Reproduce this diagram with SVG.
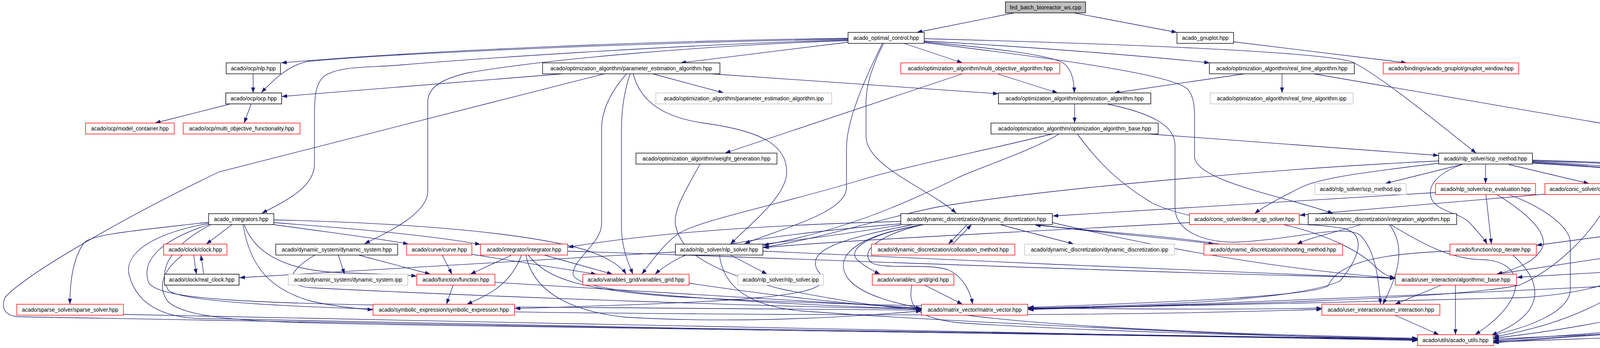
<svg xmlns="http://www.w3.org/2000/svg" width="5190" height="891" viewBox="0 0 5190 891">
<style>
.nd rect{fill:#fff;stroke:#000;stroke-width:1.4}
.nd.r rect{stroke:#ff0000}
.nd.g rect{stroke:#bfbfbf}
.nd.d rect{stroke:#404040;stroke-width:2}
.nd.s rect{fill:#bfbfbf}
.nd text{font-family:"Liberation Sans",Arial,sans-serif;font-size:14px;text-anchor:middle;fill:#000}
#edges path{fill:none;stroke:#191970;stroke-width:1.3;marker-end:url(#a)}
</style>
<defs>
<marker id="a" markerUnits="userSpaceOnUse" markerWidth="14" markerHeight="10" refX="14" refY="5" orient="auto"><path d="M0,0L14,5L0,10z" fill="#191970"/></marker>
</defs>
<rect width="5190" height="891" fill="#fff"/>
<g id="edges">
<path d="M2596,33 L2347,83"/>
<path d="M2749,33 L3013,83"/>
<path d="M3158,107 L3601,161"/>
<path d="M2171,98 C1700,104 1100,128 720,161"/>
<path d="M2171,100 C1600,110 1000,138 790,157 C740,165 700,205 669,237"/>
<path d="M2171,102 C1700,116 1200,152 1030,166 C940,174 870,168 830,195 C805,215 805,260 805,300 L805,420 C805,480 730,515 670,546"/>
<path d="M2171,104 C1800,116 1400,152 1200,186 C1115,205 1095,232 1095,262 L1095,490 C1095,545 1000,592 933,624"/>
<path d="M2171,108 L1742,161"/>
<path d="M2259,111 C2225,180 2167,300 2167,380 L2167,480 C2167,545 2000,585 1906,624"/>
<path d="M2262,111 C2232,170 2217,220 2217,262 L2217,350 C2217,425 2380,485 2448,546"/>
<path d="M2314,111 L2464,161"/>
<path d="M2366,99 C2900,113 3380,133 3460,158 C3530,190 3700,330 3779,392"/>
<path d="M2366,105 C2600,118 2900,140 3097,161"/>
<path d="M2366,107 C2550,124 2680,140 2720,160 C2745,176 2750,210 2750,238"/>
<path d="M2366,109 C2700,150 3000,190 3040,228 C3058,248 3058,280 3058,300 L3058,400 C3058,465 3300,505 3413,547"/>
<path d="M648,189 L648,238"/>
<path d="M1441,189 L721,247"/>
<path d="M1547,189 L561,440 C320,555 70,700 14,760 C0,790 15,808 45,811 C900,835 2600,852 3629,869"/>
<path d="M1604,189 C1558,240 1540,290 1540,330 L1540,573 C1540,622 1470,660 1467,700 C1465,742 1700,757 1900,770 C2100,783 2300,789 2359,792"/>
<path d="M1613,189 C1596,240 1591,290 1591,330 L1591,580 C1591,640 1612,680 1620,702"/>
<path d="M1621,189 C1640,262 1700,300 1800,315 C1950,335 2014,372 2014,440 C2014,502 1922,572 1870,625"/>
<path d="M1671,189 L1853,238"/>
<path d="M1820,189 L2556,240"/>
<path d="M2553,189 L2708,238"/>
<path d="M2464,189 L1856,392"/>
<path d="M3186,189 L2852,238"/>
<path d="M3282,189 L3282,238"/>
<path d="M3363,189 L4544,392"/>
<path d="M590,266 L397,315"/>
<path d="M643,266 L625,315"/>
<path d="M2751,266 L2751,315"/>
<path d="M2833,266 C2950,290 3008,322 3008,372 L3008,530 C3008,592 3080,620 3160,620 C3300,616 3440,572 3482,602 C3522,642 3530,720 3534,779"/>
<path d="M2941,343 L3683,398"/>
<path d="M2711,343 C2650,382 2500,432 2450,456 C2300,530 2150,592 1954,628"/>
<path d="M2694,343 C2500,390 2300,430 2200,462 C2000,522 1800,562 1740,596 C1700,622 1660,680 1643,702"/>
<path d="M2758,343 C2800,400 2850,460 2950,520 C3100,590 3300,560 3440,585 C3500,600 3480,660 3430,720 C3300,775 2900,782 2631,789"/>
<path d="M3683,412 C3300,430 2700,480 2400,530 C2250,560 2100,612 1954,633"/>
<path d="M3683,418 C3500,440 3380,455 3330,480 C3270,510 3230,532 3212,547"/>
<path d="M3743,421 L3546,470"/>
<path d="M3743,421 C3690,440 3650,470 3665,510 C3680,542 3740,546 3762,570 C3786,596 3800,612 3807,625"/>
<path d="M3803,421 L3803,470"/>
<path d="M3862,421 L4068,470"/>
<path d="M3923,416 C4100,425 4300,445 4482,473"/>
<path d="M3923,410 C4200,418 4600,430 4750,465 C4810,490 4816,522 4816,560 L4816,715 C4816,726 4868,730 4862,742 C4840,772 4700,800 4600,815 C4400,845 4000,860 3823,868"/>
<path d="M3923,412 C4300,424 4700,440 4840,476 C4920,502 4935,532 4935,562 L4935,660 C4940,702 4970,742 4987,779"/>
<path d="M3923,414 C4150,425 4300,440 4360,466 C4400,490 4420,520 4431,547"/>
<path d="M3923,418 C4150,430 4300,446 4325,480 C4340,512 4260,516 4220,527 C4190,542 4192,582 4226,625"/>
<path d="M3675,493 L2695,553"/>
<path d="M3804,498 L3818,625"/>
<path d="M3832,498 C3900,540 3960,590 3950,630 C3935,672 3870,692 3832,702"/>
<path d="M3862,498 C3950,530 4020,580 4020,622 L4020,740 C4020,802 3900,842 3818,858"/>
<path d="M3955,497 L3327,551"/>
<path d="M4134,498 C4135,550 4170,592 4209,625"/>
<path d="M4126,498 C4080,600 3980,690 3890,730 C3700,770 3000,782 2632,790"/>
<path d="M4314,493 C4550,520 4700,542 4715,590 L4717,717 C4717,770 4600,802 4400,826 C4150,850 3950,862 3823,872"/>
<path d="M4750,416 C4900,440 5100,480 5150,520 C5180,550 5183,582 5183,622 L5183,763 C5183,802 5150,815 5000,825 C4700,845 4100,865 3823,876"/>
<path d="M3557,575 C3600,632 3580,702 3540,779"/>
<path d="M3560,575 C3650,630 3720,665 3800,665 C3900,670 3922,762 3776,857"/>
<path d="M3484,575 C3420,595 3360,606 3320,625"/>
<path d="M2476,575 L2428,625"/>
<path d="M2439,625 L2487,575"/>
<path d="M2652,575 C2800,595 3000,610 3108,625"/>
<path d="M3124,625 C3000,605 2800,592 2650,576"/>
<path d="M2560,575 L2749,625"/>
<path d="M2306,567 C2000,575 1700,592 1454,633"/>
<path d="M2306,573 C2000,598 1800,630 1740,660 C1710,676 1690,690 1677,702"/>
<path d="M2306,576 C2100,610 1850,640 1731,645 L613,711"/>
<path d="M2364,575 C2200,602 2130,652 2170,712 C2230,792 2500,842 3629,866"/>
<path d="M2364,575 C2220,600 2160,640 2200,670 C2220,686 2240,696 2253,702"/>
<path d="M2337,575 C2150,612 2050,642 2100,702 C2150,762 1900,772 1318,790"/>
<path d="M2694,570 C3000,642 3300,692 3572,712"/>
<path d="M2362,575 C2250,602 2200,642 2230,672 C2260,692 2380,672 2430,692 C2470,712 2485,752 2490,779"/>
<path d="M2367,730 L2464,779"/>
<path d="M2334,730 C2325,782 2340,812 2450,826 C2800,850 3300,860 3629,868"/>
<path d="M594,575 L528,625"/>
<path d="M534,569 C350,590 232,600 215,622 C186,662 179,722 179,779"/>
<path d="M701,563 C1000,570 1300,590 1470,632 C1550,652 1590,682 1603,702"/>
<path d="M701,570 C900,585 1100,602 1230,626"/>
<path d="M701,575 C850,596 980,612 1046,625"/>
<path d="M625,575 C650,642 720,692 870,698 C950,701 1020,702 1067,707"/>
<path d="M622,575 C640,682 690,742 800,772 C870,787 920,791 955,793"/>
<path d="M534,572 C380,600 320,652 330,702 C350,782 420,810 500,815 C1500,840 2800,855 3629,868"/>
<path d="M534,575 C420,612 360,662 380,722 C400,772 700,777 1200,785 C1800,793 2200,795 2359,794"/>
<path d="M540,575 C450,622 400,682 430,742 C470,792 1200,800 2000,805 C2800,810 3200,798 3384,792"/>
<path d="M496,653 C498,670 500,686 503,702"/>
<path d="M521,702 C520,686 517,670 514,653"/>
<path d="M467,653 C420,690 400,732 430,772 C480,822 700,826 1000,831 C2000,850 3000,862 3629,870"/>
<path d="M866,653 L882,702"/>
<path d="M918,653 L1102,702"/>
<path d="M806,653 C740,692 720,732 800,737 C1300,762 2000,786 2359,791"/>
<path d="M1132,653 L1157,702"/>
<path d="M1207,651 L1527,702"/>
<path d="M1310,653 L1204,702"/>
<path d="M1393,653 L1568,702"/>
<path d="M1335,653 C1310,722 1260,752 1195,779"/>
<path d="M1346,653 C1360,722 1420,792 1600,812 C1900,830 2200,810 2359,796"/>
<path d="M1352,653 C1400,712 1480,742 1731,760 C2300,790 3000,795 3384,789"/>
<path d="M1453,643 C2000,660 3000,702 3572,711"/>
<path d="M1160,730 L1143,779"/>
<path d="M1267,723 C1700,746 2100,772 2359,789"/>
<path d="M1764,725 C2000,760 2200,782 2359,790"/>
<path d="M1870,653 L1964,702"/>
<path d="M1842,653 C1850,722 1900,782 2050,796 C2400,822 3200,860 3629,870"/>
<path d="M1953,643 C2400,662 3200,702 3572,713"/>
<path d="M3690,730 L3571,779"/>
<path d="M3726,730 L3726,857"/>
<path d="M3571,807 L3684,857"/>
<path d="M3873,653 C3950,722 3962,802 3818,858"/>
<path d="M3712,643 C3500,650 3420,682 3400,732 C3350,762 2900,777 2632,787"/>
<path d="M4157,653 L3830,702"/>
<path d="M4240,653 C4180,742 4050,822 3823,863"/>
<path d="M4234,653 C4180,722 4050,752 3900,762 C3500,772 2900,787 2632,791"/>
<path d="M4330,575 L3933,628"/>
<path d="M4442,575 C4430,642 4400,667 4300,686 L3883,710"/>
<path d="M4450,575 C4455,652 4400,712 4300,722 C4000,742 3000,782 2632,793"/>
<path d="M4453,575 C4470,642 4440,722 4300,776 C4150,822 3950,852 3823,866"/>
<path d="M4854,810 C4400,838 4000,862 3823,878"/>
<path d="M4652,498 C4720,542 4765,582 4765,622 L4765,723 C4765,762 4650,792 4500,813 C4200,850 3950,868 3823,874"/>
<path d="M316,805 C1500,830 3000,860 3629,872"/>
<path d="M3045,570 C2700,590 2200,612 1954,634"/>
<path d="M3286,575 C3400,602 3480,642 3520,682 C3540,702 3556,708 3572,712"/>
<path d="M1792,420 C1760,480 1720,540 1730,580 C1745,640 1800,690 2000,740 C2200,780 2300,790 2359,793"/>
</g>
<g id="n0" class="nd s"><rect x="2574" y="5" width="205" height="28"/><text x="2676.5" y="24">fed_batch_bioreactor_ws.cpp</text></g>
<g id="n1" class="nd"><rect x="2171" y="83" width="195" height="28"/><text x="2268.5" y="102">acado_optimal_control.hpp</text></g>
<g id="n2" class="nd"><rect x="3013" y="83" width="145" height="28"/><text x="3085.5" y="102">acado_gnuplot.hpp</text></g>
<g id="n3" class="nd"><rect x="579" y="161" width="139" height="28"/><text x="648.5" y="180">acado/ocp/nlp.hpp</text></g>
<g id="n4" class="nd"><rect x="1389" y="161" width="454" height="28"/><text x="1616" y="180">acado/optimization_algorithm/parameter_estimation_algorithm.hpp</text></g>
<g id="n5" class="nd r"><rect x="2306" y="161" width="407" height="28"/><text x="2509.5" y="180">acado/optimization_algorithm/multi_objective_algorithm.hpp</text></g>
<g id="n6" class="nd"><rect x="3096" y="161" width="371" height="28"/><text x="3281.5" y="180">acado/optimization_algorithm/real_time_algorithm.hpp</text></g>
<g id="n7" class="nd r"><rect x="3541" y="161" width="347" height="28"/><text x="3714.5" y="180">acado/bindings/acado_gnuplot/gnuplot_window.hpp</text></g>
<g id="n8" class="nd d"><rect x="578" y="238" width="143" height="28"/><text x="649.5" y="257">acado/ocp/ocp.hpp</text></g>
<g id="n9" class="nd g"><rect x="1679" y="238" width="450" height="28"/><text x="1904" y="257">acado/optimization_algorithm/parameter_estimation_algorithm.ipp</text></g>
<g id="n10" class="nd d"><rect x="2556" y="238" width="390" height="28"/><text x="2751" y="257">acado/optimization_algorithm/optimization_algorithm.hpp</text></g>
<g id="n11" class="nd g"><rect x="3098" y="238" width="366" height="28"/><text x="3281" y="257">acado/optimization_algorithm/real_time_algorithm.ipp</text></g>
<g id="n12" class="nd r"><rect x="219" y="315" width="227" height="28"/><text x="332.5" y="334">acado/ocp/model_container.hpp</text></g>
<g id="n13" class="nd r"><rect x="469" y="315" width="299" height="28"/><text x="618.5" y="334">acado/ocp/multi_objective_functionality.hpp</text></g>
<g id="n14" class="nd"><rect x="2537" y="315" width="428" height="28"/><text x="2751" y="334">acado/optimization_algorithm/optimization_algorithm_base.hpp</text></g>
<g id="n15" class="nd"><rect x="1628" y="392" width="361" height="28"/><text x="1808.5" y="411">acado/optimization_algorithm/weight_generation.hpp</text></g>
<g id="n16" class="nd"><rect x="3683" y="392" width="240" height="28"/><text x="3803" y="411">acado/nlp_solver/scp_method.hpp</text></g>
<g id="n17" class="nd r"><rect x="4511" y="392" width="239" height="28"/><text x="4630.5" y="411">acado/control_law/control_law.hpp</text></g>
<g id="n18" class="nd g"><rect x="3366" y="470" width="234" height="28"/><text x="3483" y="489">acado/nlp_solver/scp_method.ipp</text></g>
<g id="n19" class="nd r"><rect x="3675" y="470" width="256" height="28"/><text x="3803" y="489">acado/nlp_solver/scp_evaluation.hpp</text></g>
<g id="n20" class="nd r"><rect x="3955" y="470" width="359" height="28"/><text x="4134.5" y="489">acado/conic_solver/condensing_based_cp_solver.hpp</text></g>
<g id="n21" class="nd r"><rect x="4482" y="470" width="270" height="28"/><text x="4617" y="489">acado/nlp_solver/scp_step_fullstep.hpp</text></g>
<g id="n22" class="nd"><rect x="534" y="547" width="167" height="28"/><text x="617.5" y="566">acado_integrators.hpp</text></g>
<g id="n23" class="nd"><rect x="2306" y="547" width="388" height="28"/><text x="2500" y="566">acado/dynamic_discretization/dynamic_discretization.hpp</text></g>
<g id="n24" class="nd r"><rect x="3045" y="547" width="281" height="28"/><text x="3185.5" y="566">acado/conic_solver/dense_qp_solver.hpp</text></g>
<g id="n25" class="nd"><rect x="3349" y="547" width="380" height="28"/><text x="3539" y="566">acado/dynamic_discretization/integration_algorithm.hpp</text></g>
<g id="n26" class="nd r"><rect x="4209" y="547" width="470" height="28"/><text x="4444" y="566">acado/nlp_derivative_approximation/nlp_derivative_approximation.hpp</text></g>
<g id="n27" class="nd r"><rect x="419" y="625" width="162" height="28"/><text x="500" y="644">acado/clock/clock.hpp</text></g>
<g id="n28" class="nd"><rect x="706" y="625" width="312" height="28"/><text x="862" y="644">acado/dynamic_system/dynamic_system.hpp</text></g>
<g id="n29" class="nd r"><rect x="1041" y="625" width="167" height="28"/><text x="1124.5" y="644">acado/curve/curve.hpp</text></g>
<g id="n30" class="nd r"><rect x="1230" y="625" width="223" height="28"/><text x="1341.5" y="644">acado/integrator/integrator.hpp</text></g>
<g id="n31" class="nd"><rect x="1729" y="625" width="224" height="28"/><text x="1841" y="644">acado/nlp_solver/nlp_solver.hpp</text></g>
<g id="n32" class="nd r"><rect x="2231" y="625" width="367" height="28"/><text x="2414.5" y="644">acado/dynamic_discretization/collocation_method.hpp</text></g>
<g id="n33" class="nd g"><rect x="2623" y="625" width="384" height="28"/><text x="2815" y="644">acado/dynamic_discretization/dynamic_discretization.ipp</text></g>
<g id="n34" class="nd r"><rect x="3082" y="625" width="355" height="28"/><text x="3259.5" y="644">acado/dynamic_discretization/shooting_method.hpp</text></g>
<g id="n35" class="nd r"><rect x="3712" y="625" width="221" height="28"/><text x="3822.5" y="644">acado/function/ocp_iterate.hpp</text></g>
<g id="n36" class="nd r"><rect x="4108" y="625" width="288" height="28"/><text x="4252" y="644">acado/conic_solver/banded_cp_solver.hpp</text></g>
<g id="n37" class="nd d"><rect x="421" y="702" width="191" height="28"/><text x="516.5" y="721">acado/clock/real_clock.hpp</text></g>
<g id="n38" class="nd g"><rect x="738" y="702" width="306" height="28"/><text x="891" y="721">acado/dynamic_system/dynamic_system.ipp</text></g>
<g id="n39" class="nd r"><rect x="1067" y="702" width="200" height="28"/><text x="1167" y="721">acado/function/function.hpp</text></g>
<g id="n40" class="nd r"><rect x="1492" y="702" width="272" height="28"/><text x="1628" y="721">acado/variables_grid/variables_grid.hpp</text></g>
<g id="n41" class="nd g"><rect x="1889" y="702" width="219" height="28"/><text x="1998.5" y="721">acado/nlp_solver/nlp_solver.ipp</text></g>
<g id="n42" class="nd r"><rect x="2233" y="702" width="209" height="28"/><text x="2337.5" y="721">acado/variables_grid/grid.hpp</text></g>
<g id="n43" class="nd r"><rect x="3572" y="702" width="310" height="28"/><text x="3727" y="721">acado/user_interaction/algorithmic_base.hpp</text></g>
<g id="n44" class="nd r"><rect x="43" y="779" width="273" height="28"/><text x="179.5" y="798">acado/sparse_solver/sparse_solver.hpp</text></g>
<g id="n45" class="nd r"><rect x="955" y="779" width="362" height="28"/><text x="1136" y="798">acado/symbolic_expression/symbolic_expression.hpp</text></g>
<g id="n46" class="nd r"><rect x="2359" y="779" width="272" height="28"/><text x="2495" y="798">acado/matrix_vector/matrix_vector.hpp</text></g>
<g id="n47" class="nd r"><rect x="3384" y="779" width="302" height="28"/><text x="3535" y="798">acado/user_interaction/user_interaction.hpp</text></g>
<g id="n48" class="nd r"><rect x="4854" y="779" width="290" height="28"/><text x="4999" y="798">acado/nlp_solver/scp_step_linesearch.hpp</text></g>
<g id="n49" class="nd r"><rect x="3629" y="857" width="194" height="28"/><text x="3726" y="876">acado/utils/acado_utils.hpp</text></g>
</svg>
